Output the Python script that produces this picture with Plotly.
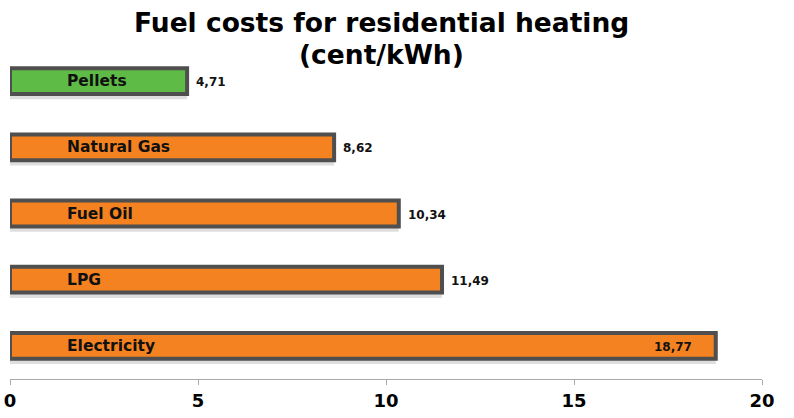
import plotly.graph_objects as go

categories = ["Electricity", "LPG", "Fuel Oil", "Natural Gas", "Pellets"]
values = [18.77, 11.49, 10.34, 8.62, 4.71]
value_labels = ["18,77", "11,49", "10,34", "8,62", "4,71"]
colors = ["#F58220", "#F58220", "#F58220", "#F58220", "#5DBB46"]
tick_vals = [0, 5, 10, 15, 20]
title_lines = ["Fuel costs for residential heating", "(cent/kWh)"]

fig = go.Figure()
# soft drop shadow
fig.add_trace(go.Bar(
    x=values, y=categories, orientation="h",
    marker=dict(color="rgba(0,0,0,0.13)", line=dict(width=0)),
    width=0.45, offset=-0.275, hoverinfo="skip",
))
fig.add_trace(go.Bar(
    x=values, y=categories, orientation="h",
    marker=dict(color=colors, line=dict(color="#4F4F4F", width=4)),
    width=0.39, offset=-0.195, hoverinfo="skip",
))

ann = []
for c, v, lab in zip(categories, values, value_labels):
    ann.append(dict(x=0, y=c, xref="x", yref="y", text=c, showarrow=False,
                    xanchor="left", xshift=55,
                    font=dict(family="DejaVu Sans", size=15.5, weight="bold", color="#111111")))
    if v > 15:
        ann.append(dict(x=v, y=c, xref="x", yref="y", text=lab, showarrow=False,
                        xanchor="right", xshift=-22, yshift=-1,
                        font=dict(family="DejaVu Sans", size=12, weight="bold", color="#111111")))
    else:
        ann.append(dict(x=v, y=c, xref="x", yref="y", text=lab, showarrow=False,
                        xanchor="left", xshift=7, yshift=-1,
                        font=dict(family="DejaVu Sans", size=12, weight="bold", color="#111111")))

for line, ypos in zip(title_lines, [1.0785, 0.979]):
    ann.append(dict(x=0.4934, y=ypos, xref="paper", yref="paper",
                    text=line, showarrow=False, xanchor="center", yanchor="middle",
                    font=dict(family="DejaVu Sans", size=26.5, weight="bold", color="black")))

fig.update_layout(
    width=794, height=418,
    margin=dict(l=10, r=32, t=48, b=39, autoexpand=False),
    paper_bgcolor="white", plot_bgcolor="white",
    showlegend=False, barmode="overlay",
    xaxis=dict(range=[0, 20], tickvals=tick_vals, showgrid=False, zeroline=False,
               showline=True, linecolor="#AAAAAA", linewidth=1, automargin=False,
               ticks="outside", ticklen=5, tickcolor="#AAAAAA",
               ticklabeloverflow="allow",
               tickfont=dict(family="DejaVu Sans", size=18, weight="bold", color="black")),
    yaxis=dict(range=[-0.5, 4.5], showticklabels=False, showgrid=False, automargin=False,
               zeroline=False, showline=False, ticks=""),
    annotations=ann,
)
fig.write_html("out.html", config={"displayModeBar": False},
               post_script="document.body.style.margin='0px';")
